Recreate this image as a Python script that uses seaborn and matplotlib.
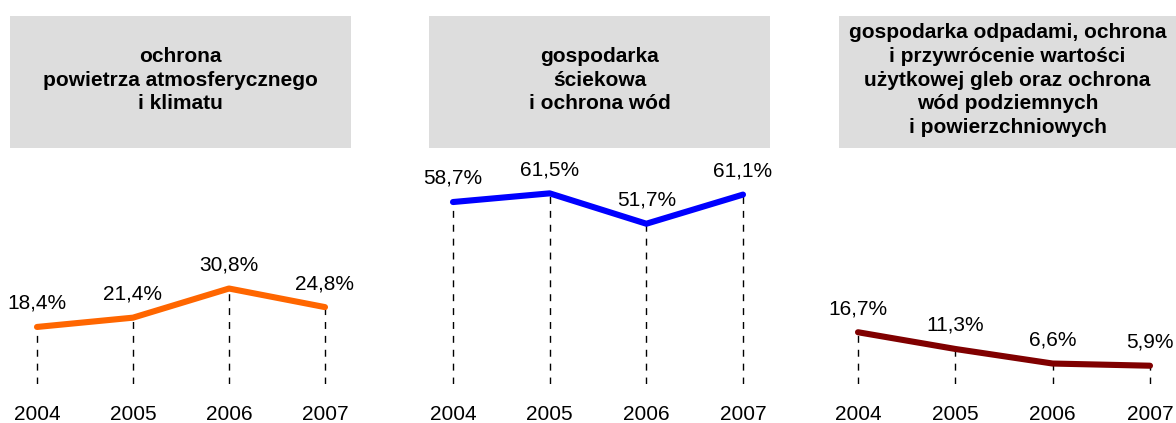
import matplotlib
matplotlib.use("Agg")
import matplotlib.pyplot as plt
from matplotlib.patches import Rectangle
import seaborn as sns
import pandas as pd

sns.set_style("white")
plt.rcParams['font.family'] = ['Liberation Sans', 'DejaVu Sans']
plt.rcParams['text.color'] = 'black'
plt.rcParams['xtick.color'] = 'black'

years = [2004, 2005, 2006, 2007]
titles = [
    "ochrona\npowietrza atmosferycznego\ni klimatu",
    "gospodarka\nściekowa\ni ochrona wód",
    "gospodarka odpadami, ochrona\ni przywrócenie wartości\nużytkowej gleb oraz ochrona\nwód podziemnych\ni powierzchniowych",
]
air = [18.4, 21.4, 30.8, 24.8]
water = [58.7, 61.5, 51.7, 61.1]
waste = [16.7, 11.3, 6.6, 5.9]
series = [air, water, waste]
colors = ["#FF6600", "#0000FF", "#800000"]

W, H = 1176, 423
fig = plt.figure(figsize=(W / 100, H / 100), dpi=100)

# panel geometry in pixels: (box left, box right, x of first point, x of last point)
panels = [(10, 351, 37, 325), (429, 770, 453, 743), (839, 1176, 858, 1150)]
base_px, top_px, box_bottom_px = 384, 16, 148
px_per_pct = 3.1

for (bl, br, x0, x3), title, vals, col in zip(panels, titles, series, colors):
    ax = fig.add_axes([bl / W, (H - base_px) / H, (br - bl) / W, (base_px - top_px) / H])
    unit = (x3 - x0) / 3.0
    ax.set_xlim(2004 - (x0 - bl) / unit, 2007 + (br - x3) / unit)
    ax.set_ylim(0, (base_px - top_px) / px_per_pct)
    df = pd.DataFrame({"year": years, "value": vals})
    ax.vlines(df["year"], 0, df["value"], colors="black", linestyles=(0, (5, 5)), linewidth=1.0, zorder=1)
    sns.lineplot(data=df, x="year", y="value", ax=ax, color=col, linewidth=4.4,
                 solid_capstyle="round", solid_joinstyle="round", zorder=3)
    for x, v in zip(years, vals):
        ax.annotate(f"{v:.1f}%".replace(".", ","), (x, v), xytext=(0, 17),
                    textcoords="offset points", ha="center", va="center", fontsize=15)
    yb = (base_px - box_bottom_px) / (base_px - top_px)
    ax.add_patch(Rectangle((0, yb), 1, 1 - yb, transform=ax.transAxes, facecolor="#DDDDDD",
                           edgecolor="none", clip_on=False, zorder=0))
    ax.text(0.5, (yb + 1) / 2 + 0.005, title, transform=ax.transAxes, ha="center", va="center",
            fontsize=15, fontweight="bold", linespacing=1.32)
    ax.set_xticks(years)
    ax.set_xticklabels([str(y) for y in years], fontsize=15)
    ax.tick_params(axis="x", length=0, pad=15)
    ax.set_yticks([])
    ax.set_xlabel("")
    ax.set_ylabel("")
    for s in ax.spines.values():
        s.set_visible(False)

fig.savefig("out.png", dpi=100)
